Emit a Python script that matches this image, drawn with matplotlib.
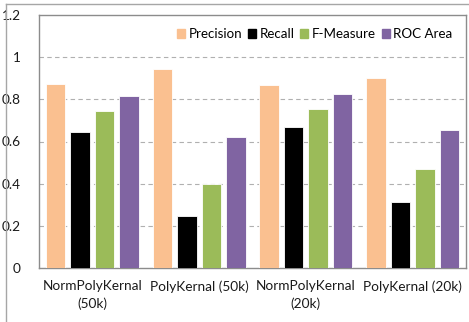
import numpy as np
import matplotlib
matplotlib.use("Agg")
import matplotlib.pyplot as plt
from matplotlib.patches import Patch
from matplotlib.lines import Line2D

plt.rcParams['font.family'] = ['Lato', 'DejaVu Sans']

groups = ["NormPolyKernal\n(50k)", "PolyKernal (50k)", "NormPolyKernal\n(20k)", "PolyKernal (20k)"]
series = ["Precision", "Recall", "F-Measure", "ROC Area"]
precision = [0.875, 0.943, 0.867, 0.902]
recall = [0.646, 0.246, 0.670, 0.314]
fmeasure = [0.745, 0.398, 0.754, 0.468]
roc = [0.817, 0.620, 0.825, 0.654]
colors = ["#FAC090", "#000000", "#9BBB59", "#8064A2"]

values = [precision, recall, fmeasure, roc]

fig = plt.figure(figsize=(4.69, 3.22), dpi=100)
ax = fig.add_axes([39/469, 54/322, (466-39)/469, (268-15)/322])

x = np.arange(len(groups))
step = 0.229
width = 0.183
for i, (vals, c) in enumerate(zip(values, colors)):
    ax.bar(x + (i - 1.5) * step, vals, width, color=c, edgecolor='white',
           linewidth=0.6, zorder=3, label=series[i])

ax.set_xlim(-0.5, 3.5)
ax.set_ylim(0, 1.2)
ax.set_yticks([0, 0.2, 0.4, 0.6, 0.8, 1.0, 1.2])
ax.set_yticklabels(["0", "0.2", "0.4", "0.6", "0.8", "1", "1.2"])
ax.set_xticks(x)
ax.set_xticklabels(groups, linespacing=1.45)
ax.tick_params(axis='both', length=0, labelsize=9.8, colors='#1a1a1a')
ax.tick_params(axis='y', pad=13)
ax.tick_params(axis='x', pad=9)
for yv in [0.2, 0.4, 0.6, 0.8, 1.0]:
    ax.axhline(yv, color='#b0b0b0', linestyle=(0, (4, 3)), linewidth=0.8, zorder=1)
for s in ax.spines.values():
    s.set_color('#8c8c8c')
    s.set_linewidth(1.0)

handles = [Patch(color=c, label=s) for s, c in zip(series, colors)]
ax.legend(handles=handles, ncol=4, loc='upper right', bbox_to_anchor=(0.99, 0.985),
          frameon=False, fontsize=9.6, handlelength=0.6, handleheight=0.6,
          handletextpad=0.25, columnspacing=0.45, borderaxespad=0.3)

# outer chart border
fig.add_artist(Line2D([6/469, 6/469], [0, 1 - 4/322], transform=fig.transFigure,
                      color='#a6a6a6', linewidth=1.0))
fig.add_artist(Line2D([6/469, 1], [1 - 4/322, 1 - 4/322], transform=fig.transFigure,
                      color='#a6a6a6', linewidth=1.0))

fig.savefig("out.png", dpi=100)
